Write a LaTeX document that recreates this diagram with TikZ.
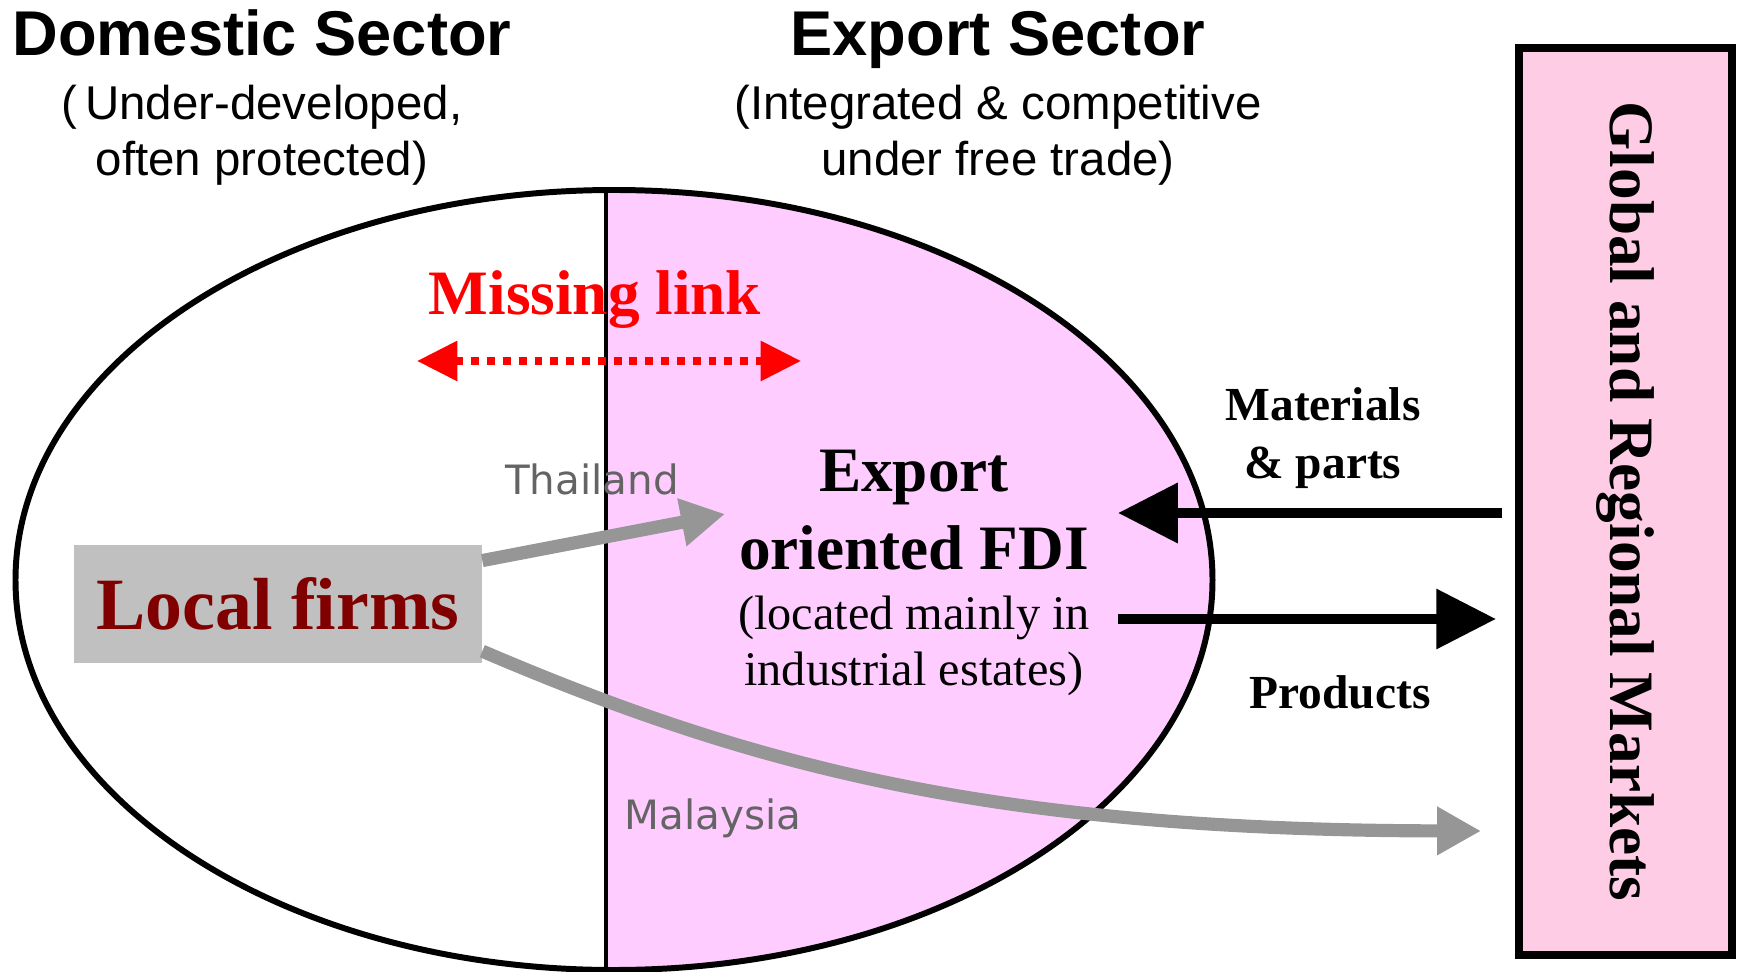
\documentclass[tikz,border=0pt]{standalone}
\usepackage{fontspec}
\setmainfont{Liberation Serif}
\setsansfont{Liberation Sans}
\newfontfamily\countryfont{DejaVu Sans}
\usetikzlibrary{arrows.meta}
\definecolor{exportpink}{RGB}{255,204,255}
\definecolor{marketpink}{RGB}{255,204,230}
\definecolor{firmgray}{RGB}{192,192,192}
\definecolor{routegray}{RGB}{150,150,150}
\definecolor{labelgray}{RGB}{100,100,100}
\definecolor{firmred}{RGB}{128,0,0}

\begin{document}
\begin{tikzpicture}[x=0.02cm,y=-0.02cm,
  sector/.style={font=\sffamily\bfseries\fontsize{36}{40}\selectfont},
  sectornote/.style={font=\sffamily\fontsize{27}{32}\selectfont,align=center},
  country/.style={font=\countryfont\fontsize{23}{27}\selectfont,text=labelgray},
  route/.style={draw=routegray,line width=7.5pt,-{Triangle[length=25pt,width=26pt]}},
  flow/.style={draw=black,line width=5.7pt,-{Triangle[length=34pt,width=33pt]}},
  flowlabel/.style={font=\bfseries\fontsize{27}{33}\selectfont,align=center}]
\tikzstyle{every node}+=[inner sep=0pt]
\useasboundingbox (0,0) rectangle (1744,972);
\begin{scope}
\clip (614,580) ellipse [x radius=598.5, y radius=390];
\fill[exportpink] (606,150) rectangle (1250,1000);
\end{scope}
\draw[line width=3.4pt] (614,580) ellipse [x radius=598.5, y radius=390];
\draw[line width=2.5pt] (606,190) -- (606,970);

\node[sector,anchor=base] (domestic) at (262,56) {Domestic Sector};
\node[sectornote] (domesticnote) at (262,135) {(\,Under-developed,\\often protected)};
\node[sector,anchor=base] (export) at (998,56) {Export Sector};
\node[sectornote] (exportnote) at (998,135) {(Integrated \& competitive\\under free trade)};

\node[anchor=base,text=red,font=\bfseries\fontsize{36}{40}\selectfont] (missing) at (595,315) {Missing link};
\coordinate (linkwest) at (417,361);
\coordinate (linkeast) at (801,361);
\draw[red,line width=4.3pt,dash pattern=on 4.5pt off 4.5pt,{Triangle[length=23pt,width=22pt]}-{Triangle[length=23pt,width=22pt]}] (linkwest) -- (linkeast);

\node[align=center,font=\bfseries\fontsize{36}{44}\selectfont] (fdi) at (914,510) {Export\\oriented FDI};
\node[align=center,font=\fontsize{27.5}{32}\selectfont] (fdinote) at (914,646) {(located mainly in\\industrial estates)};

\node[fill=firmgray,minimum width=8.16cm,minimum height=2.38cm,text=firmred,font=\bfseries\fontsize{42}{48}\selectfont] (firms) at (278,604) {Local firms};
\node[country,anchor=base] (thailand) at (592,495) {Thailand};
\node[country,anchor=base] (malaysia) at (713,829) {Malaysia};

\node[draw,line width=4.5pt,fill=marketpink,rotate=-90,minimum width=18.14cm,minimum height=4.26cm,font=\bfseries\fontsize{36}{40}\selectfont] (markets) at (1625.5,501.5) {Global and Regional Markets};

\coordinate (thaitip) at (725,514);
\coordinate (malaytip) at (1481,831);
\draw[route] (firms.12) -- (thaitip);
\draw[route] (firms.-13) .. controls (760,770) and (1000,830) .. (malaytip);

\node[flowlabel] (materials) at (1323,438) {Materials\\\& parts};
\node[flowlabel,anchor=base] (products) at (1340,708) {Products};
\coordinate (partsin) at (1118,513);
\coordinate (partsout) at (1502,513);
\coordinate (goodsin) at (1118,619);
\coordinate (goodsout) at (1496,619);
\draw[flow] (partsout) -- (partsin);
\draw[flow] (goodsin) -- (goodsout);
\end{tikzpicture}
\end{document}
